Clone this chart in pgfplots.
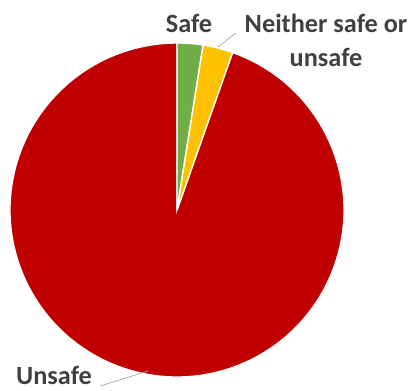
\documentclass[border=0pt]{standalone}
\usepackage{pgfplots}
\pgfplotsset{compat=1.18}
\usepackage{fontspec}
\setmainfont{Carlito}
\definecolor{cRed}{HTML}{C00000}
\definecolor{cGreen}{HTML}{70AD47}
\definecolor{cYellow}{HTML}{FFC000}
\definecolor{cText}{HTML}{404040}
% shares in percent
\def\vSafe{2.5}
\def\vNeither{2.9}
\def\vUnsafe{94.6}
\begin{document}
\begin{tikzpicture}
\begin{axis}[width=4.17in,height=3.91in,scale only axis,hide axis,
  xmin=0,xmax=417,ymin=0,ymax=391,clip=false]
\pgfmathsetmacro{\aA}{90}
\pgfmathsetmacro{\aB}{90-3.6*\vSafe}
\pgfmathsetmacro{\aC}{\aB-3.6*\vNeither}
\pgfmathsetmacro{\aD}{\aC-3.6*\vUnsafe}
\def\R{1.67in}
\fill[cRed,draw=white,line width=1pt] (axis cs:177,181) -- ++(\aC:\R) arc[start angle=\aC,end angle=\aD,radius=\R] -- cycle;
\fill[cGreen,draw=white,line width=1pt] (axis cs:177,181) -- ++(\aA:\R) arc[start angle=\aA,end angle=\aB,radius=\R] -- cycle;
\fill[cYellow,draw=white,line width=1pt] (axis cs:177,181) -- ++(\aB:\R) arc[start angle=\aB,end angle=\aC,radius=\R] -- cycle;
\draw[gray!70,line width=0.5pt] (axis cs:218,344) -- (axis cs:236,358);
\draw[gray!70,line width=0.5pt] (axis cs:148,20) -- (axis cs:100,5);
\node[text=cText,font=\bfseries\fontsize{19}{25}\selectfont,anchor=base] at (axis cs:189,358) {Safe};
\node[text=cText,font=\bfseries\fontsize{19}{25}\selectfont,anchor=base] at (axis cs:326,358) {Neither safe or};
\node[text=cText,font=\bfseries\fontsize{19}{25}\selectfont,anchor=base] at (axis cs:326,324) {unsafe};
\node[text=cText,font=\bfseries\fontsize{19}{25}\selectfont,anchor=base,inner sep=0pt] at (axis cs:54,6) {Unsafe};
\end{axis}
\pgfresetboundingbox
\path (current axis.south west) rectangle (current axis.north east);
\end{tikzpicture}
\end{document}
